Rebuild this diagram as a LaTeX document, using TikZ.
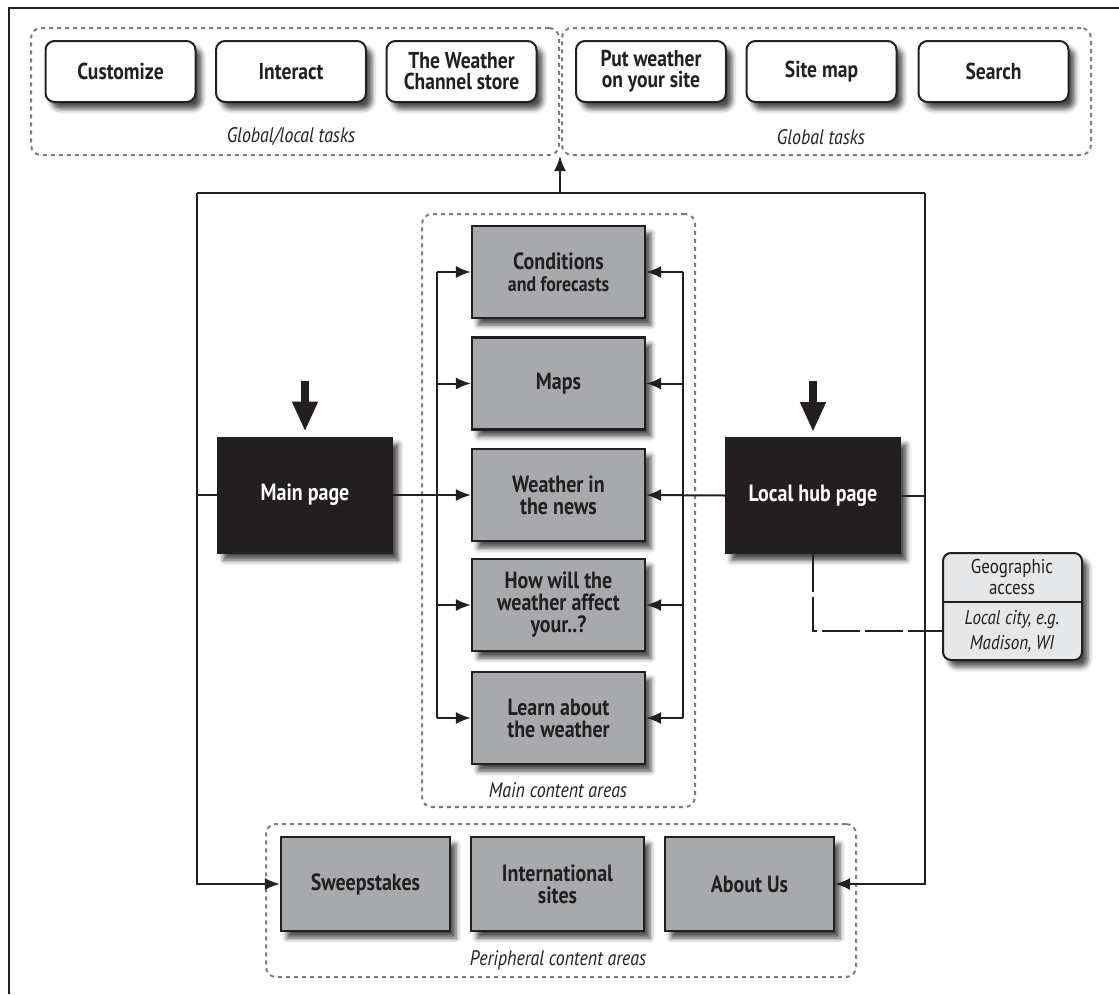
\documentclass[tikz,border=0pt]{standalone}
\usepackage{fontspec}
\setmainfont{PT Sans}
\newfontfamily\cf[FakeStretch=0.85]{PT Sans}
\usetikzlibrary{arrows.meta,shadows.blur}

\definecolor{ink}{HTML}{231F20}
\definecolor{boxgray}{HTML}{A7A9AC}
\definecolor{palegray}{HTML}{E6E7E8}
\definecolor{dashgray}{HTML}{7A7C7F}

\begin{document}
\begin{tikzpicture}[x=1pt,y=-1pt,
  every node/.style={font=\cf, text=ink, inner sep=0pt},
  shade/.style={blur shadow={shadow xshift=6pt, shadow yshift=-7pt, shadow blur radius=5pt, shadow opacity=70}},
  task/.style={draw=ink, line width=2pt, rounded corners=9pt, fill=white,
    minimum width=150pt, minimum height=61pt, align=center,
    font=\cf\bfseries\fontsize{23}{21}\selectfont, shade},
  area/.style={draw=ink, line width=2.2pt, fill=boxgray,
    minimum width=173pt, minimum height=92pt, align=center,
    font=\cf\bfseries\fontsize{23.5}{22}\selectfont, shade},
  hub/.style={draw=ink, line width=1pt, fill=ink, text=white,
    minimum width=175pt, minimum height=116pt,
    font=\cf\bfseries\fontsize{23.5}{23}\selectfont, shade},
  grp/.style={draw=dashgray, line width=2pt, rounded corners=10pt,
    dash pattern=on 4pt off 4pt},
  lbl/.style={font=\cf\itshape\fontsize{21}{21}\selectfont},
  wire/.style={draw=ink, line width=2pt},
  tip/.style={-{Latex[length=15pt,width=12pt]}},
  bigarrow/.style={draw=ink, line width=8pt, -{Triangle[length=30pt,width=24pt]}},
  longdash/.style={draw=ink, line width=2pt, dash pattern=on 38pt off 5pt}
]
\useasboundingbox (0,0) rectangle (1119,994);

% page frame (open at the right and bottom)
\draw[draw=ink, line width=2.5pt] (9,994) -- (9,8) -- (1119,8);

% dashed groupings
\node[grp, minimum width=528pt, minimum height=127pt] (gLocal) at (295,91.5) {};
\node[grp, minimum width=529pt, minimum height=127pt] (gGlobal) at (826.5,91.5) {};
\node[grp, minimum width=273pt, minimum height=593pt] (gMain) at (558.5,510.5) {};
\node[grp, minimum width=590pt, minimum height=153pt] (gPeri) at (561,900.5) {};

\node[lbl] (lLocal) at (291,137) {Global/local tasks};
\node[lbl] (lGlobal) at (821,137) {Global tasks};
\node[lbl] (lMain) at (558,790) {Main content areas};
\node[lbl] (lPeri) at (558,960) {Peripheral content areas};

% task buttons
\node[task] (custom) at (120.5,71.5) {Customize};
\node[task] (interact) at (291,71.5) {Interact};
\node[task] (store) at (461.5,71.5) {The Weather\\Channel store};
\node[task] (putwx) at (651,71.5) {Put weather\\on your site};
\node[task] (sitemap) at (821.5,71.5) {Site map};
\node[task] (search) at (993.5,71.5) {Search};

% connector skeleton
\coordinate (tl) at (197,193);
\coordinate (tr) at (925,193);
\coordinate (tm) at (560,193);
\coordinate (tmTip) at (560,156);
\coordinate (busL) at (437,0);
\coordinate (busR) at (683,0);

% main content areas
\node[area] (cond) at (558.5,272) {Conditions\\{\fontsize{21}{20}\selectfont and forecasts}};
\node[area] (maps) at (558.5,383.5) {Maps};
\node[area] (news) at (558.5,495) {Weather in\\the news};
\node[area] (affect) at (558.5,605) {How will the\\weather affect\\your..?};
\node[area] (learn) at (558.5,718) {Learn about\\the weather};

% peripheral content areas
\node[area, minimum width=169pt, minimum height=94pt] (sweep) at (365.5,884) {Sweepstakes};
\node[area, minimum width=173pt, minimum height=94pt] (intl) at (557.5,884) {International\\sites};
\node[area, minimum width=169pt, minimum height=94pt] (about) at (749.5,884) {About Us};

% hub pages
\node[hub] (mainpg) at (305,495) {Main page};
\node[hub] (localhub) at (813,495.5) {Local hub page};

% geographic access card
\node[draw=ink, line width=2pt, rounded corners=8pt, fill=palegray,
      minimum width=139pt, minimum height=107pt, shade] (geo) at (1012.5,606.5) {};
\draw[wire] (geo.west |- 0,602) -- (geo.east |- 0,602);
\node[align=center, font=\cf\fontsize{20}{21}\selectfont] (geoTop) at (1012,577) {Geographic\\access};
\node[align=center, font=\cf\itshape\fontsize{20}{25}\selectfont] (geoBot) at (1012,631) {Local city, e.g.\\Madison, WI};

% loop around everything
\draw[wire] (tl) -- (tr);
\draw[wire, tip] (tm) -- (tmTip);
\draw[wire, tip] (tl) |- (sweep.west);
\draw[wire, tip] (tr) |- (about.east);
\draw[wire] (mainpg.west) -- (mainpg.west -| tl);
\draw[wire] (localhub.east) -- (localhub.east -| tr);

% hubs into the main content
\draw[wire, tip] (mainpg.east) -- (news.west);
\draw[wire, tip] (localhub.west) -- (news.east);

% distribution buses
\draw[wire] (cond.west -| busL) -- (learn.west -| busL);
\draw[wire] (cond.east -| busR) -- (learn.east -| busR);
\foreach \b in {cond,maps,affect,learn}{
  \draw[wire, tip] (\b.west -| busL) -- (\b.west);
  \draw[wire, tip] (\b.east -| busR) -- (\b.east);
}

% entry arrows
\draw[bigarrow] ([yshift=56pt]mainpg.north) -- ([yshift=5pt]mainpg.north);
\draw[bigarrow] ([yshift=56pt]localhub.north) -- ([yshift=5pt]localhub.north);

% hub to geographic access
\draw[longdash] (localhub.south) |- (geoBot -| geo.west);
\end{tikzpicture}
\end{document}
